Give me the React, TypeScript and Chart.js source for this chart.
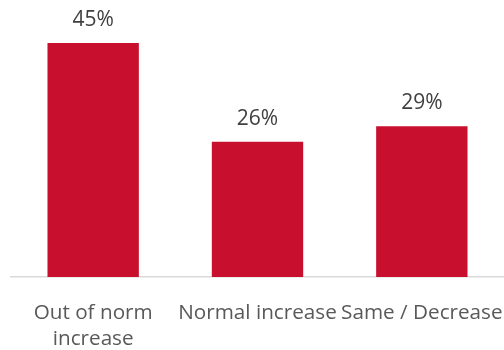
import React, { useEffect, useRef } from "react";
import { Chart, registerables } from "chart.js";

Chart.register(...registerables);

const categories: (string | string[])[] = [
  ["Out of norm", "increase"],
  "Normal increase",
  "Same / Decrease",
];
const shares: number[] = [45, 26, 29];

const BAR_COLOR = "#C8102E";
const FONT = "'Open Sans', 'Noto Sans', sans-serif";

// Writes each bar's percentage just above it
const valueLabels = {
  id: "valueLabels",
  afterDatasetsDraw(chart: any) {
    const ctx = chart.ctx;
    const meta = chart.getDatasetMeta(0);
    ctx.save();
    ctx.font = `21px ${FONT}`;
    ctx.fillStyle = "#404040";
    ctx.textAlign = "center";
    ctx.textBaseline = "alphabetic";
    meta.data.forEach((bar: any, i: number) => {
      ctx.fillText(`${shares[i]}%`, bar.x, bar.y - 17);
    });
    ctx.restore();
  },
};

export default function App() {
  const canvasRef = useRef<HTMLCanvasElement | null>(null);

  useEffect(() => {
    if (!canvasRef.current) return;
    const chart = new Chart(canvasRef.current, {
      type: "bar",
      data: {
        labels: categories,
        datasets: [
          {
            data: shares,
            backgroundColor: BAR_COLOR,
            categoryPercentage: 1,
            barPercentage: 0.556,
          },
        ],
      },
      options: {
        animation: false,
        responsive: false,
        maintainAspectRatio: false,
        layout: { padding: { top: 17, left: 11, right: 0, bottom: 0 } },
        plugins: {
          legend: { display: false },
          tooltip: { enabled: false },
        },
        scales: {
          x: {
            grid: { display: false, drawTicks: false },
            border: { display: true, color: "#d9d9d9", width: 1.5 },
            ticks: {
              color: "#595959",
              font: { family: FONT, size: 20.7, lineHeight: 1.25 },
              padding: 23,
              maxRotation: 0,
              minRotation: 0,
              autoSkip: false,
            },
            afterFit: (scale: any) => {
              // fixed axis band; labels may run to the edges of the plot
              scale.height = 73;
              scale.paddingLeft = 0;
              scale.paddingRight = 0;
            },
          },
          y: {
            display: false,
            min: 0,
            max: 50,
          },
        },
      },
      plugins: [valueLabels],
    });
    return () => chart.destroy();
  }, []);

  return (
    <div style={{ position: "absolute", left: 0, top: 0, width: 504, height: 350, background: "#fff" }}>
      <canvas ref={canvasRef} width={504} height={350} />
    </div>
  );
}
